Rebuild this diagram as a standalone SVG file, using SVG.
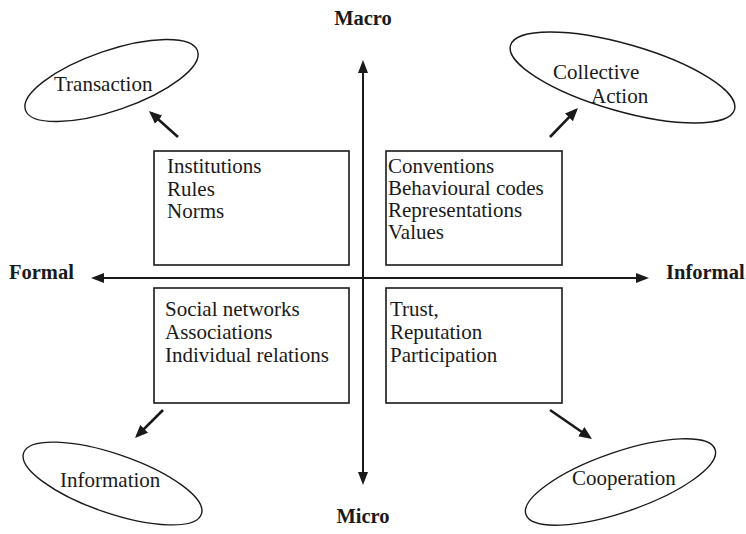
<svg xmlns="http://www.w3.org/2000/svg" width="746" height="534" viewBox="0 0 746 534">
<style>
  .t { font-family: "Liberation Serif", "Times New Roman", serif; font-size: 21px; fill: #1a1a1a; }
  .b { font-family: "Liberation Serif", "Times New Roman", serif; font-size: 20.5px; font-weight: bold; fill: #1a1a1a; }
  .box { fill: #fff; stroke: #1a1a1a; stroke-width: 1.6; }
  .ell { fill: none; stroke: #1a1a1a; stroke-width: 1.4; }
  .axis { stroke: #1a1a1a; stroke-width: 2; fill: none; }
  .arr { stroke: #1a1a1a; stroke-width: 2.6; fill: none; }
</style>
<defs>
  <marker id="ah" markerUnits="userSpaceOnUse" markerWidth="14" markerHeight="12" refX="10" refY="5" orient="auto-start-reverse" viewBox="0 0 14 10">
    <path d="M0,0 L13,5 L0,10 z" fill="#1a1a1a"/>
  </marker>
  <marker id="ad" markerUnits="userSpaceOnUse" markerWidth="14" markerHeight="12" refX="10" refY="5.5" orient="auto" viewBox="0 0 14 11">
    <path d="M0,0 L13,5.5 L0,11 z" fill="#1a1a1a"/>
  </marker>
</defs>

<g id="connectors">
  <line class="axis" x1="363" y1="63" x2="363" y2="482" marker-start="url(#ah)" marker-end="url(#ah)"/>
  <line class="axis" x1="94" y1="278" x2="646" y2="278" marker-start="url(#ah)" marker-end="url(#ah)"/>
  <line class="arr" x1="178" y1="137" x2="151.2" y2="113" marker-end="url(#ad)"/>
  <line class="arr" x1="550" y1="137" x2="575.9" y2="110.2" marker-end="url(#ad)"/>
  <line class="arr" x1="163" y1="410" x2="137.1" y2="435.9" marker-end="url(#ad)"/>
  <line class="arr" x1="550" y1="410" x2="589.5" y2="437.3" marker-end="url(#ad)"/>
</g>

<g id="label-macro"><text class="b" x="363" y="25" text-anchor="middle">Macro</text></g>
<g id="label-micro"><text class="b" x="363" y="523" text-anchor="middle">Micro</text></g>
<g id="label-formal"><text class="b" x="9" y="279">Formal</text></g>
<g id="label-informal"><text class="b" x="666" y="279">Informal</text></g>

<g id="box-institutions">
  <rect class="box" x="154" y="151" width="195" height="114"/>
  <text class="t" x="167" y="173">Institutions</text>
  <text class="t" x="167" y="195.5">Rules</text>
  <text class="t" x="167" y="218">Norms</text>
</g>
<g id="box-conventions">
  <rect class="box" x="386" y="151" width="176" height="114"/>
  <text class="t" x="388" y="173">Conventions</text>
  <text class="t" x="388" y="195">Behavioural codes</text>
  <text class="t" x="388" y="217">Representations</text>
  <text class="t" x="388" y="239">Values</text>
</g>
<g id="box-networks">
  <rect class="box" x="154" y="288" width="195" height="115"/>
  <text class="t" x="165" y="316">Social networks</text>
  <text class="t" x="165" y="339">Associations</text>
  <text class="t" x="165" y="362">Individual relations</text>
</g>
<g id="box-trust">
  <rect class="box" x="386" y="288" width="176" height="115"/>
  <text class="t" x="390" y="316">Trust,</text>
  <text class="t" x="390" y="339">Reputation</text>
  <text class="t" x="390" y="362">Participation</text>
</g>

<g id="ellipse-transaction">
  <ellipse class="ell" cx="111.5" cy="80.5" rx="91" ry="30" transform="rotate(-19 111.5 80.5)"/>
  <text class="t" x="54" y="91">Transaction</text>
</g>
<g id="ellipse-collective">
  <ellipse class="ell" cx="622.5" cy="77.5" rx="116.5" ry="33.5" transform="rotate(16 622.5 77.5)"/>
  <text class="t" x="553" y="79">Collective</text>
  <text class="t" x="591" y="103">Action</text>
</g>
<g id="ellipse-information">
  <ellipse class="ell" cx="112.5" cy="483.5" rx="94" ry="29.5" transform="rotate(19 112.5 483.5)"/>
  <text class="t" x="60" y="487">Information</text>
</g>
<g id="ellipse-cooperation">
  <ellipse class="ell" cx="620.5" cy="482" rx="100" ry="30" transform="rotate(-19 620.5 482)"/>
  <text class="t" x="572" y="485">Cooperation</text>
</g>
</svg>
